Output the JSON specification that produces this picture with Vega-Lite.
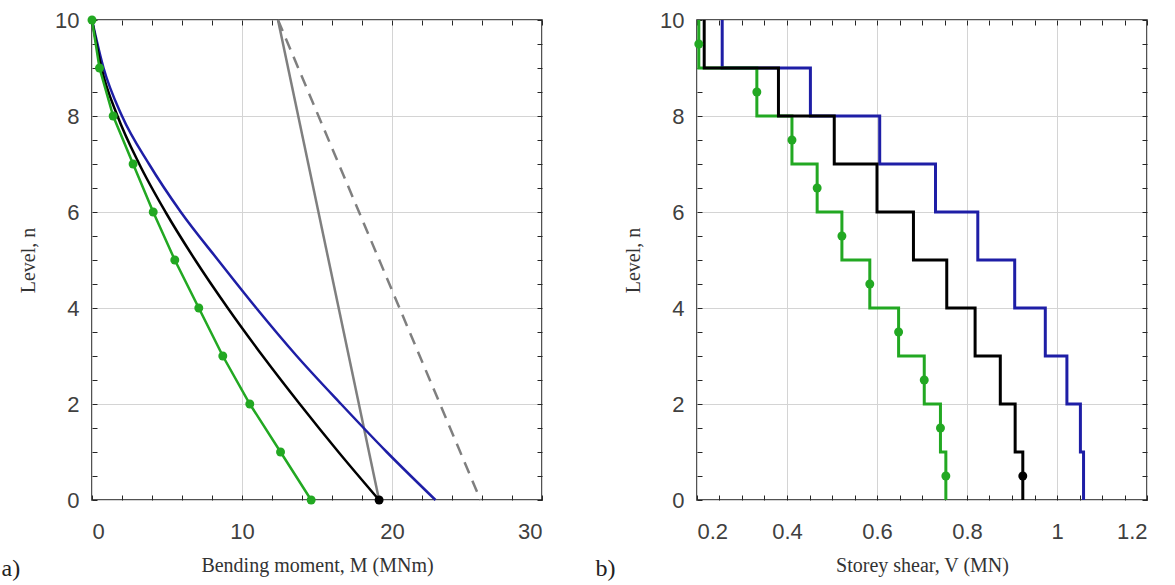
{
  "$schema": "https://vega.github.io/schema/vega-lite/v6.json",
  "background": "white",
  "padding": {"left": 0, "top": 8, "right": 4, "bottom": 2},
  "spacing": 50,
  "config": {
    "view": {"stroke": "#1a1a1a", "strokeWidth": 1.5},
    "axis": {
      "domain": false,
      "labelFont": "Liberation Sans",
      "labelFontSize": 22,
      "labelColor": "#404040",
      "titleFont": "Liberation Serif",
      "titleFontSize": 20,
      "titleFontWeight": "normal",
      "titleColor": "#333333",
      "tickColor": "#262626",
      "tickSize": -5,
      "tickWidth": 1,
      "gridColor": "#d4d4d4",
      "gridWidth": 1
    },
    "title": {"font": "Liberation Serif", "fontSize": 24, "fontWeight": "normal", "color": "#222222"}
  },
  "datasets": {
    "moment": [
      {"s": "grey dashed", "lvl": 10, "M": 12.4},
      {"s": "grey dashed", "lvl": 0, "M": 25.9},
      {"s": "grey", "lvl": 10, "M": 12.4},
      {"s": "grey", "lvl": 0, "M": 19.14},
      {"s": "blue", "lvl": 10, "M": 0},
      {"s": "blue", "lvl": 9, "M": 0.77},
      {"s": "blue", "lvl": 8, "M": 2.0},
      {"s": "blue", "lvl": 7, "M": 3.8},
      {"s": "blue", "lvl": 6, "M": 5.92},
      {"s": "blue", "lvl": 5, "M": 8.4},
      {"s": "blue", "lvl": 4, "M": 10.95},
      {"s": "blue", "lvl": 3, "M": 13.65},
      {"s": "blue", "lvl": 2, "M": 16.6},
      {"s": "blue", "lvl": 1, "M": 19.65},
      {"s": "blue", "lvl": 0, "M": 22.9},
      {"s": "black", "lvl": 10, "M": 0},
      {"s": "black", "lvl": 9, "M": 0.63},
      {"s": "black", "lvl": 8, "M": 1.7},
      {"s": "black", "lvl": 7, "M": 3.15},
      {"s": "black", "lvl": 6, "M": 4.9},
      {"s": "black", "lvl": 5, "M": 6.88},
      {"s": "black", "lvl": 4, "M": 9.05},
      {"s": "black", "lvl": 3, "M": 11.38},
      {"s": "black", "lvl": 2, "M": 13.85},
      {"s": "black", "lvl": 1, "M": 16.43},
      {"s": "black", "lvl": 0, "M": 19.14},
      {"s": "green", "lvl": 10, "M": 0},
      {"s": "green", "lvl": 9, "M": 0.5},
      {"s": "green", "lvl": 8, "M": 1.41},
      {"s": "green", "lvl": 7, "M": 2.74},
      {"s": "green", "lvl": 6, "M": 4.08},
      {"s": "green", "lvl": 5, "M": 5.52},
      {"s": "green", "lvl": 4, "M": 7.12},
      {"s": "green", "lvl": 3, "M": 8.72},
      {"s": "green", "lvl": 2, "M": 10.52},
      {"s": "green", "lvl": 1, "M": 12.57},
      {"s": "green", "lvl": 0, "M": 14.61}
    ],
    "shear": [
      {"s": "blue", "lvl": 10, "V": 0.256},
      {"s": "blue", "lvl": 9, "V": 0.452},
      {"s": "blue", "lvl": 8, "V": 0.606},
      {"s": "blue", "lvl": 7, "V": 0.73},
      {"s": "blue", "lvl": 6, "V": 0.824},
      {"s": "blue", "lvl": 5, "V": 0.906},
      {"s": "blue", "lvl": 4, "V": 0.974},
      {"s": "blue", "lvl": 3, "V": 1.022},
      {"s": "blue", "lvl": 2, "V": 1.052},
      {"s": "blue", "lvl": 1, "V": 1.059},
      {"s": "blue", "lvl": 0, "V": 1.059},
      {"s": "green", "lvl": 10, "V": 0.204},
      {"s": "green", "lvl": 9, "V": 0.333},
      {"s": "green", "lvl": 8, "V": 0.411},
      {"s": "green", "lvl": 7, "V": 0.467},
      {"s": "green", "lvl": 6, "V": 0.522},
      {"s": "green", "lvl": 5, "V": 0.584},
      {"s": "green", "lvl": 4, "V": 0.648},
      {"s": "green", "lvl": 3, "V": 0.705},
      {"s": "green", "lvl": 2, "V": 0.741},
      {"s": "green", "lvl": 1, "V": 0.753},
      {"s": "green", "lvl": 0, "V": 0.753},
      {"s": "black", "lvl": 10, "V": 0.216},
      {"s": "black", "lvl": 9, "V": 0.381},
      {"s": "black", "lvl": 8, "V": 0.505},
      {"s": "black", "lvl": 7, "V": 0.6},
      {"s": "black", "lvl": 6, "V": 0.681},
      {"s": "black", "lvl": 5, "V": 0.755},
      {"s": "black", "lvl": 4, "V": 0.818},
      {"s": "black", "lvl": 3, "V": 0.874},
      {"s": "black", "lvl": 2, "V": 0.907},
      {"s": "black", "lvl": 1, "V": 0.924},
      {"s": "black", "lvl": 0, "V": 0.924}
    ],
    "shearMarkers": [
      {"s": "green", "mid": 9.5, "V": 0.204},
      {"s": "green", "mid": 8.5, "V": 0.333},
      {"s": "green", "mid": 7.5, "V": 0.411},
      {"s": "green", "mid": 6.5, "V": 0.467},
      {"s": "green", "mid": 5.5, "V": 0.522},
      {"s": "green", "mid": 4.5, "V": 0.584},
      {"s": "green", "mid": 3.5, "V": 0.648},
      {"s": "green", "mid": 2.5, "V": 0.705},
      {"s": "green", "mid": 1.5, "V": 0.741},
      {"s": "green", "mid": 0.5, "V": 0.753},
      {"s": "black", "mid": 0.5, "V": 0.924}
    ]
  },
  "hconcat": [
    {
      "width": 450,
      "height": 480,
      "title": {"text": "a)", "orient": "bottom", "anchor": "start", "frame": "bounds", "offset": -18, "dx": -17},
      "layer": [
        {
          "data": {"name": "moment"},
          "transform": [{"filter": "datum.s === 'grey dashed'"}],
          "mark": {"type": "line", "color": "#7f7f7f", "strokeWidth": 2.5, "strokeDash": [12, 8]},
          "encoding": {
            "x": {
              "field": "M", "type": "quantitative",
              "scale": {"domain": [0, 30], "nice": false, "zero": false},
              "axis": {
                "orient": "bottom",
                "values": [0, 2, 4, 6, 8, 10, 12, 14, 16, 18, 20, 22, 24, 26, 28, 30],
                "labelExpr": "datum.value % 10 === 0 ? format(datum.value, 'd') : ''",
                "grid": true,
                "gridOpacity": {"condition": {"test": "datum.value % 10 === 0", "value": 1}, "value": 0},
                "labelPadding": 26,
                "title": "Bending moment, M (MNm)",
                "titlePadding": 13
              }
            },
            "y": {
              "field": "lvl", "type": "quantitative",
              "scale": {"domain": [0, 10], "nice": false},
              "axis": {
                "orient": "left",
                "values": [0, 0.5, 1, 1.5, 2, 2.5, 3, 3.5, 4, 4.5, 5, 5.5, 6, 6.5, 7, 7.5, 8, 8.5, 9, 9.5, 10],
                "labelExpr": "datum.value % 2 === 0 ? format(datum.value, 'd') : ''",
                "grid": true,
                "gridOpacity": {"condition": {"test": "datum.value % 2 === 0", "value": 1}, "value": 0},
                "labelPadding": 18,
                "title": "Level, n",
                "titlePadding": 16
              }
            },
            "order": {"field": "lvl", "sort": "descending"}
          }
        },
        {
          "data": {"name": "moment"},
          "transform": [{"filter": "datum.s === 'grey'"}],
          "mark": {"type": "line", "color": "#7f7f7f", "strokeWidth": 2.5},
          "encoding": {
            "x": {
              "field": "M", "type": "quantitative",
              "axis": {
                "orient": "top",
                "values": [0, 2, 4, 6, 8, 10, 12, 14, 16, 18, 20, 22, 24, 26, 28, 30],
                "labels": false, "grid": false, "title": null
              }
            },
            "y": {
              "field": "lvl", "type": "quantitative",
              "axis": {
                "orient": "right",
                "values": [0, 0.5, 1, 1.5, 2, 2.5, 3, 3.5, 4, 4.5, 5, 5.5, 6, 6.5, 7, 7.5, 8, 8.5, 9, 9.5, 10],
                "labels": false, "grid": false, "title": null
              }
            },
            "order": {"field": "lvl", "sort": "descending"}
          }
        },
        {
          "data": {"name": "moment"},
          "transform": [{"filter": "datum.s === 'blue'"}],
          "mark": {"type": "line", "color": "#1e1ea6", "strokeWidth": 2.5, "interpolate": "monotone"},
          "encoding": {
            "x": {"field": "M", "type": "quantitative", "axis": null},
            "y": {"field": "lvl", "type": "quantitative", "axis": null},
            "order": {"field": "lvl", "sort": "descending"}
          }
        },
        {
          "data": {"name": "moment"},
          "transform": [{"filter": "datum.s === 'black'"}],
          "mark": {"type": "line", "color": "#000000", "strokeWidth": 2.5, "interpolate": "monotone"},
          "encoding": {
            "x": {"field": "M", "type": "quantitative", "axis": null},
            "y": {"field": "lvl", "type": "quantitative", "axis": null},
            "order": {"field": "lvl", "sort": "descending"}
          }
        },
        {
          "data": {"name": "moment"},
          "transform": [{"filter": "datum.s === 'green'"}],
          "mark": {"type": "line", "color": "#22a822", "strokeWidth": 2.5, "point": {"filled": true, "size": 80, "color": "#22a822"}},
          "encoding": {
            "x": {"field": "M", "type": "quantitative", "axis": null},
            "y": {"field": "lvl", "type": "quantitative", "axis": null},
            "order": {"field": "lvl", "sort": "descending"}
          }
        },
        {
          "data": {"name": "moment"},
          "transform": [{"filter": "datum.s === 'black' && datum.lvl === 0"}],
          "mark": {"type": "circle", "color": "#000000", "size": 80, "opacity": 1},
          "encoding": {
            "x": {"field": "M", "type": "quantitative", "axis": null},
            "y": {"field": "lvl", "type": "quantitative", "axis": null}
          }
        }
      ]
    },
    {
      "width": 450,
      "height": 480,
      "title": {"text": "b)", "orient": "bottom", "anchor": "start", "frame": "bounds", "offset": -18, "dx": -28},
      "layer": [
        {
          "data": {"name": "shear"},
          "transform": [{"filter": "datum.s === 'blue'"}],
          "mark": {"type": "line", "color": "#1e1ea6", "strokeWidth": 3, "interpolate": "step-before"},
          "encoding": {
            "x": {
              "field": "V", "type": "quantitative",
              "scale": {"domain": [0.2, 1.2], "nice": false, "zero": false},
              "axis": {
                "orient": "bottom",
                "values": [0.2, 0.25, 0.3, 0.35, 0.4, 0.45, 0.5, 0.55, 0.6, 0.65, 0.7, 0.75, 0.8, 0.85, 0.9, 0.95, 1, 1.05, 1.1, 1.15, 1.2],
                "labelExpr": "abs(datum.value * 5 - round(datum.value * 5)) < 1e-6 ? format(datum.value, '~g') : ''",
                "grid": true,
                "gridOpacity": {"condition": {"test": "abs(datum.value * 5 - round(datum.value * 5)) < 1e-6", "value": 1}, "value": 0},
                "labelPadding": 26,
                "title": "Storey shear, V (MN)",
                "titlePadding": 13
              }
            },
            "y": {
              "field": "lvl", "type": "quantitative",
              "scale": {"domain": [0, 10], "nice": false},
              "axis": {
                "orient": "left",
                "values": [0, 0.5, 1, 1.5, 2, 2.5, 3, 3.5, 4, 4.5, 5, 5.5, 6, 6.5, 7, 7.5, 8, 8.5, 9, 9.5, 10],
                "labelExpr": "datum.value % 2 === 0 ? format(datum.value, 'd') : ''",
                "grid": true,
                "gridOpacity": {"condition": {"test": "datum.value % 2 === 0", "value": 1}, "value": 0},
                "labelPadding": 18,
                "title": "Level, n",
                "titlePadding": 16
              }
            },
            "order": {"field": "lvl", "sort": "descending"}
          }
        },
        {
          "data": {"name": "shear"},
          "transform": [{"filter": "datum.s === 'green'"}],
          "mark": {"type": "line", "color": "#22a822", "strokeWidth": 3, "interpolate": "step-before"},
          "encoding": {
            "x": {
              "field": "V", "type": "quantitative",
              "axis": {
                "orient": "top",
                "values": [0.2, 0.25, 0.3, 0.35, 0.4, 0.45, 0.5, 0.55, 0.6, 0.65, 0.7, 0.75, 0.8, 0.85, 0.9, 0.95, 1, 1.05, 1.1, 1.15, 1.2],
                "labels": false, "grid": false, "title": null
              }
            },
            "y": {
              "field": "lvl", "type": "quantitative",
              "axis": {
                "orient": "right",
                "values": [0, 0.5, 1, 1.5, 2, 2.5, 3, 3.5, 4, 4.5, 5, 5.5, 6, 6.5, 7, 7.5, 8, 8.5, 9, 9.5, 10],
                "labels": false, "grid": false, "title": null
              }
            },
            "order": {"field": "lvl", "sort": "descending"}
          }
        },
        {
          "data": {"name": "shear"},
          "transform": [{"filter": "datum.s === 'black'"}],
          "mark": {"type": "line", "color": "#000000", "strokeWidth": 3, "interpolate": "step-before"},
          "encoding": {
            "x": {"field": "V", "type": "quantitative", "axis": null},
            "y": {"field": "lvl", "type": "quantitative", "axis": null},
            "order": {"field": "lvl", "sort": "descending"}
          }
        },
        {
          "data": {"name": "shearMarkers"},
          "mark": {"type": "circle", "size": 80, "opacity": 1},
          "encoding": {
            "x": {"field": "V", "type": "quantitative", "axis": null},
            "y": {"field": "mid", "type": "quantitative", "axis": null},
            "color": {"field": "s", "type": "nominal", "scale": {"domain": ["green", "black"], "range": ["#22a822", "#000000"]}, "legend": null}
          }
        }
      ]
    }
  ]
}
